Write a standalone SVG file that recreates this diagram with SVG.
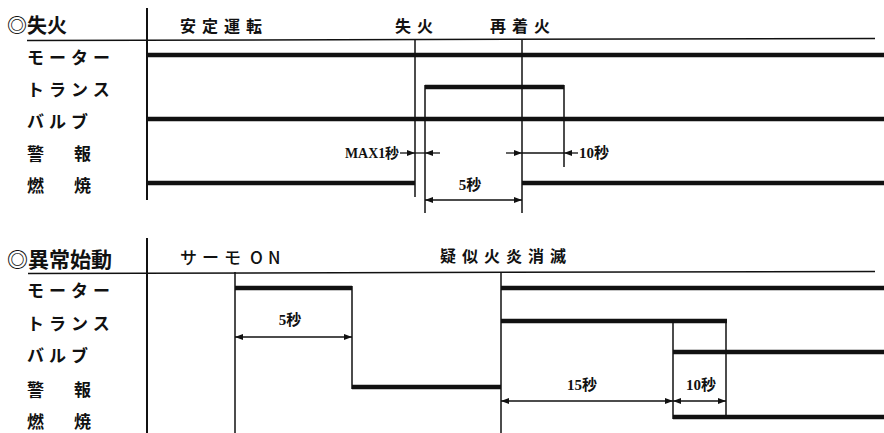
<svg xmlns="http://www.w3.org/2000/svg" width="884" height="433" viewBox="0 0 884 433">
<style>
.t{font-family:"Noto Sans CJK JP","Noto Sans CJK SC",sans-serif;font-weight:700;fill:#111;dominant-baseline:central}
.lbl{font-size:17px;letter-spacing:5px}
.ttl{font-size:20px}
.hd{font-size:16px;letter-spacing:6px}
.num{font-family:"Liberation Serif","Noto Sans CJK JP",serif;font-size:15px;font-weight:700;fill:#111;dominant-baseline:central;text-anchor:middle}
.thin{stroke:#111;stroke-width:1.5;fill:none}
.sep{stroke:#111;stroke-width:2;fill:none}
.thick{stroke:#111;stroke-width:4.5;fill:none}
.dim{stroke:#111;stroke-width:1.3;fill:none}
</style>
<defs>
<marker id="ah" viewBox="0 0 8 6" refX="8" refY="3" markerWidth="8" markerHeight="6" markerUnits="userSpaceOnUse" orient="auto-start-reverse">
<path d="M0,0 L8,3 L0,6 Z" fill="#111"/>
</marker>
</defs>
<rect width="884" height="433" fill="#fff"/>

<g id="section-misfire">
<text class="t ttl" x="7" y="24">◎失火</text>
<text class="t hd" x="180" y="25">安定運転</text>
<text class="t hd" x="395" y="25">失火</text>
<text class="t hd" x="490" y="25">再着火</text>
<line class="thin" x1="27" y1="40.5" x2="875" y2="38.5"/>
<line class="sep" x1="147" y1="8" x2="147" y2="200"/>
<g id="labels-top">
<text class="t lbl" x="27" y="56">モーター</text>
<text class="t lbl" x="27" y="88">トランス</text>
<text class="t lbl" x="27" y="120">バルブ</text>
<text class="t lbl" x="27" y="152"><tspan x="27">警</tspan><tspan x="74">報</tspan></text>
<text class="t lbl" x="27" y="184"><tspan x="27">燃</tspan><tspan x="74">焼</tspan></text>
</g>
<g id="signals-top">
<line class="thick" x1="148" y1="55" x2="884" y2="55"/>
<polyline class="thick" points="425,87 564,87"/>
<line class="thick" x1="148" y1="119" x2="884" y2="119"/>
<line class="thick" x1="148" y1="183" x2="415" y2="183"/>
<line class="thick" x1="522" y1="183" x2="884" y2="183"/>
</g>
<g id="edges-top">
<line class="thin" x1="415" y1="40" x2="415" y2="197"/>
<line class="thin" x1="425" y1="85" x2="425" y2="213"/>
<line class="thin" x1="522" y1="40" x2="522" y2="213"/>
<line class="thin" x1="564" y1="85" x2="564" y2="167"/>
</g>
<g id="dims-top">
<line class="dim" x1="400" y1="153" x2="415" y2="153" marker-end="url(#ah)"/>
<line class="dim" x1="415" y1="153" x2="425" y2="153"/>
<line class="dim" x1="440" y1="153" x2="425" y2="153" marker-end="url(#ah)"/>
<line class="dim" x1="506" y1="153" x2="522" y2="153" marker-end="url(#ah)"/>
<line class="dim" x1="522" y1="153" x2="564" y2="153"/>
<line class="dim" x1="578" y1="153" x2="564" y2="153" marker-end="url(#ah)"/>
<line class="dim" x1="425" y1="200" x2="522" y2="200" marker-start="url(#ah)" marker-end="url(#ah)"/>
<text class="num" x="372" y="153" style="font-size:14px" textLength="54" lengthAdjust="spacingAndGlyphs">MAX1秒</text>
<text class="num" x="594" y="153">10秒</text>
<text class="num" x="470" y="185">5秒</text>
</g>
</g>

<g id="section-abnormal">
<text class="t ttl" x="7" y="258" style="font-size:21px">◎異常始動</text>
<text class="t" x="180" y="256" style="font-size:17px;font-weight:500;letter-spacing:5px">サーモ<tspan x="250">O</tspan><tspan x="268">N</tspan></text>
<text class="t hd" x="440" y="255">疑似火炎消滅</text>
<line class="thin" x1="28" y1="273.5" x2="875" y2="271.5"/>
<line class="sep" x1="147" y1="238" x2="147" y2="433"/>
<g id="labels-bottom">
<text class="t lbl" x="27" y="289">モーター</text>
<text class="t lbl" x="27" y="322">トランス</text>
<text class="t lbl" x="27" y="354">バルブ</text>
<text class="t lbl" x="27" y="388"><tspan x="27">警</tspan><tspan x="74">報</tspan></text>
<text class="t lbl" x="27" y="420"><tspan x="27">燃</tspan><tspan x="74">焼</tspan></text>
</g>
<g id="signals-bottom">
<line class="thick" x1="235" y1="288" x2="352" y2="288"/>
<line class="thick" x1="352" y1="387" x2="501" y2="387"/>
<line class="thick" x1="501" y1="288" x2="884" y2="288"/>
<line class="thick" x1="501" y1="321" x2="727" y2="321"/>
<line class="thick" x1="673" y1="352" x2="884" y2="352"/>
<line class="thick" x1="673" y1="417" x2="884" y2="417"/>
</g>
<g id="edges-bottom">
<line class="thin" x1="235" y1="272" x2="235" y2="433"/>
<line class="thin" x1="352" y1="286" x2="352" y2="389"/>
<line class="thin" x1="501" y1="272" x2="501" y2="433"/>
<line class="thin" x1="673" y1="319" x2="673" y2="419"/>
<line class="thin" x1="726" y1="319" x2="726" y2="415"/>
</g>
<g id="dims-bottom">
<line class="dim" x1="235" y1="337" x2="352" y2="337" marker-start="url(#ah)" marker-end="url(#ah)"/>
<line class="dim" x1="501" y1="401" x2="673" y2="401" marker-start="url(#ah)" marker-end="url(#ah)"/>
<line class="dim" x1="673" y1="401" x2="726" y2="401" marker-start="url(#ah)" marker-end="url(#ah)"/>
<text class="num" x="290" y="320">5秒</text>
<text class="num" x="582" y="385">15秒</text>
<text class="num" x="701" y="385">10秒</text>
</g>
</g>
</svg>
